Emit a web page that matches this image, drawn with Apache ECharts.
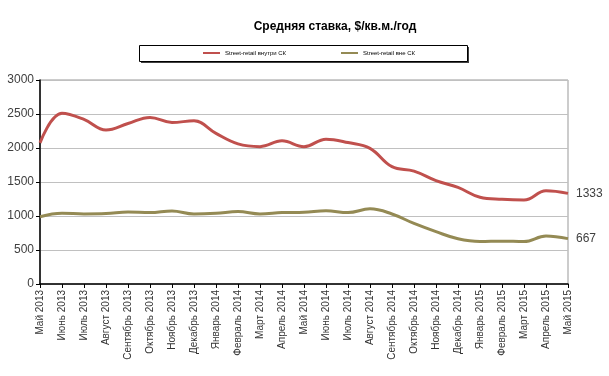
<!DOCTYPE html>
<html>
<head>
<meta charset="utf-8">
<script src="https://cdn.jsdelivr.net/npm/echarts@6/dist/echarts.min.js"></script>
<style>
html,body{margin:0;padding:0;background:#fff;}
#chart{width:609px;height:376px;}
</style>
</head>
<body>
<div id="chart"></div>
<script>
var months=["Май 2013","Июнь 2013","Июль 2013","Август 2013","Сентябрь 2013","Октябрь 2013","Ноябрь 2013","Декабрь 2013",
  "Январь 2014","Февраль 2014","Март 2014","Апрель 2014","Май 2014","Июнь 2014","Июль 2014","Август 2014",
  "Сентябрь 2014","Октябрь 2014","Ноябрь 2014","Декабрь 2014","Январь 2015","Февраль 2015","Март 2015","Апрель 2015","Май 2015"];

var inside=[2075,2510,2420,2265,2360,2450,2375,2400,2215,2060,2020,2105,2020,2130,2080,1995,
  1725,1660,1520,1420,1275,1245,1235,1370,1333];
var outside=[990,1040,1030,1035,1060,1050,1075,1030,1040,1065,1030,1050,1055,1078,1050,1105,
  1030,890,770,665,625,630,625,705,667];

var nameIn="Street-retail внутри СК";
var nameOut="Street-retail вне СК";

var chart=echarts.init(document.getElementById("chart"),null,{renderer:"canvas"});

var option={
  backgroundColor:"#fff",
  animation:false,
  textStyle:{fontFamily:"Liberation Sans, Arial, sans-serif"},
  title:{
    text:"Средняя ставка, $/кв.м./год",
    left:330,
    textAlign:"center",
    top:16,
    textStyle:{fontSize:12,fontWeight:"bold",color:"#000",fontFamily:"Liberation Sans, Arial, sans-serif"}
  },
  graphic:[
    {
      type:"rect",
      shape:{x:141,y:47,width:328,height:16},
      style:{fill:"#404040"},
      z:0
    },
    {
      type:"rect",
      shape:{x:139.5,y:45.5,width:328,height:16},
      style:{fill:"#fff",stroke:"#000",lineWidth:1},
      z:1
    }
  ],
  legend:[
    {
      left:203,top:50,padding:0,
      data:[nameIn],
      itemWidth:17,itemHeight:2,itemGap:5,
      icon:"rect",
      textStyle:{fontSize:6,color:"#000"},
      z:5
    },
    {
      left:341,top:50,padding:0,
      data:[nameOut],
      itemWidth:17,itemHeight:2,
      icon:"rect",
      textStyle:{fontSize:6,color:"#000"},
      z:5
    }
  ],
  grid:{left:40,right:41,top:80,bottom:92,show:true,borderColor:"#999",borderWidth:1,backgroundColor:"transparent"},
  xAxis:{
    type:"category",
    data:months,
    boundaryGap:false,
    axisLine:{lineStyle:{color:"#000",width:1.5}},
    axisTick:{show:true,length:4,alignWithLabel:true,lineStyle:{color:"#000"}},
    axisLabel:{rotate:90,interval:0,fontSize:10,color:"#333",margin:6},
    splitLine:{show:false}
  },
  yAxis:{
    type:"value",
    min:0,max:3000,interval:500,
    axisLine:{show:true,lineStyle:{color:"#000",width:1.5}},
    axisTick:{show:true,length:4,lineStyle:{color:"#000"}},
    axisLabel:{fontSize:12,color:"#404040",margin:6,formatter:function(v){return String(v);}},
    splitLine:{lineStyle:{color:"#c0c0c0",width:1}}
  },
  series:[
    {
      name:nameIn,
      type:"line",
      data:inside,
      smooth:0.4,
      symbol:"none",
      color:"#C0504D",
      lineStyle:{width:3,color:"#C0504D"},
      endLabel:{show:true,formatter:"{c}",color:"#404040",fontSize:12,distance:8}
    },
    {
      name:nameOut,
      type:"line",
      data:outside,
      smooth:0.4,
      symbol:"none",
      color:"#948A54",
      lineStyle:{width:3,color:"#948A54"},
      endLabel:{show:true,formatter:"{c}",color:"#404040",fontSize:12,distance:8}
    }
  ]
};
chart.setOption(option);
</script>
</body>
</html>
